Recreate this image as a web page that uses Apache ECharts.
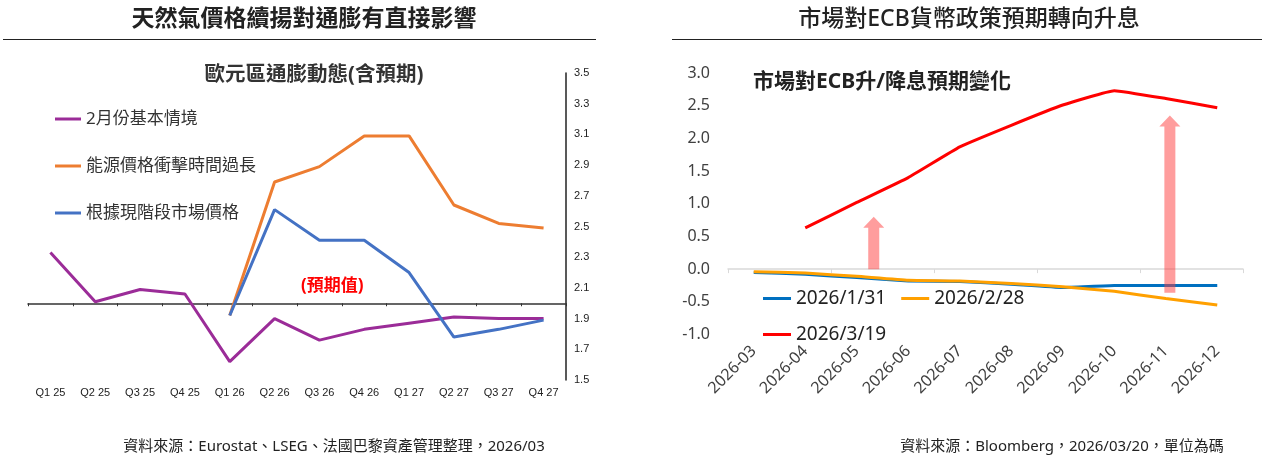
<!DOCTYPE html>
<html>
<head>
<meta charset="utf-8">
<script src="https://cdn.jsdelivr.net/npm/echarts@6/dist/echarts.min.js"></script>
<style>
  html, body { margin: 0; padding: 0; background: #fff; }
  #chart { width: 1269px; height: 456px; }
</style>
</head>
<body>
<div id="chart"></div>
<script>
// left panel: euro area inflation (quarterly)
const quarters = ['Q1 25', 'Q2 25', 'Q3 25', 'Q4 25', 'Q1 26', 'Q2 26', 'Q3 26', 'Q4 26', 'Q1 27', 'Q2 27', 'Q3 27', 'Q4 27'];
const baseCase = [2.33, 2.01, 2.09, 2.06, 1.62, 1.90, 1.76, 1.83, 1.87, 1.91, 1.90, 1.90];
const energyShock = [null, null, null, null, 1.92, 2.79, 2.89, 3.09, 3.09, 2.64, 2.52, 2.49];
const marketPrice = [null, null, null, null, 1.92, 2.61, 2.41, 2.41, 2.20, 1.78, 1.83, 1.89];
const inflTicks = [1.5, 1.7, 1.9, 2.1, 2.3, 2.5, 2.7, 2.9, 3.1, 3.3, 3.5];

// right panel: ECB rate expectations (months)
const months = ['2026-03', '2026-04', '2026-05', '2026-06', '2026-07', '2026-08', '2026-09', '2026-10', '2026-11', '2026-12'];
const asOfJan31 = [-0.05, -0.08, -0.13, -0.18, -0.19, -0.23, -0.28, -0.25, -0.25, -0.25];
const asOfFeb28 = [-0.04, -0.06, -0.11, -0.17, -0.18, -0.22, -0.27, -0.34, -0.45, -0.55];
const asOfMar19 = [null, 0.63, 1.02, 1.40, 1.87, 2.20, 2.51, 2.73, 2.61, 2.47];

// pink arrow annotations (category position, from value, to value)
const arrows = [
  { at: 2.33, from: 0, to: 0.80 },
  { at: 8.08, from: -0.36, to: 2.35 }
];

const W = 1269, H = 456;
const cjk = "'Noto Sans', 'Noto Sans CJK TC', sans-serif";
const latin = "'Liberation Sans', Arial, sans-serif";

const leftGrid = { left: 28, right: W - 566, top: 73, bottom: H - 380 };
const rightGrid = { left: 728, right: W - 1243, top: 73, bottom: H - 334.5 };
// x axis lines sit at 2.0 (left) and 0.0 (right): a quarter up from the bottom
const leftLineOffset = -(H - leftGrid.top - leftGrid.bottom) * (2.0 - 1.5) / (3.5 - 1.5);
const rightLineOffset = -(H - rightGrid.top - rightGrid.bottom) * (0 - (-1)) / (3 - (-1));

let chartElem = document.getElementById('chart');
let chart = echarts.init(chartElem);

chart.setOption({
  animation: false,
  textStyle: { fontFamily: cjk },
  title: [{
    text: '天然氣價格續揚對通膨有直接影響',
    left: 299, top: 3, textAlign: 'center',
    textStyle: { fontSize: 23, fontWeight: 'bold', color: '#222', fontFamily: cjk }
  }, {
    text: '市場對ECB貨幣政策預期轉向升息',
    left: 964, top: 3, textAlign: 'center',
    textStyle: { fontSize: 23, fontWeight: 500, color: '#222', fontFamily: cjk }
  }, {
    text: '歐元區通膨動態(含預期)',
    left: 309, top: 60, textAlign: 'center',
    textStyle: { fontSize: 20.5, fontWeight: 'bold', color: '#333', fontFamily: cjk }
  }, {
    text: '市場對ECB升/降息預期變化',
    left: 748, top: 67,
    textStyle: { fontSize: 21, fontWeight: 'bold', color: '#222', fontFamily: cjk }
  }, {
    text: '資料來源：Eurostat、LSEG、法國巴黎資產管理整理，2026/03',
    left: 329, top: 434, textAlign: 'center',
    textStyle: { fontSize: 15, fontWeight: 'normal', color: '#222', fontFamily: cjk }
  }, {
    text: '資料來源：Bloomberg，2026/03/20，單位為碼',
    left: 1057, top: 434, textAlign: 'center',
    textStyle: { fontSize: 15, fontWeight: 'normal', color: '#222', fontFamily: cjk }
  }],
  legend: [{
    data: ['2月份基本情境', '能源價格衝擊時間過長', '根據現階段市場價格'],
    orient: 'vertical',
    left: 55, top: 109, padding: 0,
    icon: 'rect', itemWidth: 26, itemHeight: 3, itemGap: 27,
    textStyle: { fontSize: 17, color: '#333', lineHeight: 20, fontFamily: cjk }
  }, {
    data: ['2026/1/31', '2026/2/28', '2026/3/19'],
    orient: 'horizontal',
    left: 763, top: 288, width: 300, padding: 0,
    icon: 'rect', itemWidth: 28, itemHeight: 3, itemGap: 15,
    textStyle: { fontSize: 19, color: '#222', lineHeight: 21, fontFamily: cjk }
  }],
  grid: [
    { ...leftGrid, containLabel: false },
    { ...rightGrid, containLabel: false }
  ],
  xAxis: [{
    gridIndex: 0, type: 'category', data: quarters, boundaryGap: true,
    axisLine: { show: false }, axisTick: { show: false }, splitLine: { show: false },
    axisLabel: { fontSize: 11, color: '#222', margin: 7, fontFamily: latin }
  }, {
    gridIndex: 0, type: 'category', data: quarters, boundaryGap: true,
    position: 'bottom', offset: leftLineOffset,
    axisLine: { show: true, onZero: false, lineStyle: { color: '#333', width: 1.5 } },
    axisTick: { show: true, length: 3, lineStyle: { color: '#333' } },
    axisLabel: { show: false }, splitLine: { show: false }
  }, {
    gridIndex: 1, type: 'category', data: months, boundaryGap: true,
    axisLine: { show: false }, axisTick: { show: false }, splitLine: { show: false },
    axisLabel: { fontSize: 16, color: '#404040', rotate: 45, margin: 14, fontFamily: cjk }
  }, {
    gridIndex: 1, type: 'category', data: months, boundaryGap: true,
    position: 'bottom', offset: rightLineOffset,
    axisLine: { show: true, onZero: false, lineStyle: { color: '#d9d9d9', width: 1.5 } },
    axisTick: { show: true, length: 4, lineStyle: { color: '#d9d9d9' } },
    axisLabel: { show: false }, splitLine: { show: false }
  }],
  yAxis: [{
    gridIndex: 0, type: 'value', position: 'right',
    min: 1.5, max: 3.5,
    axisLine: { show: true, lineStyle: { color: '#222', width: 1.5 } },
    axisTick: { show: false }, splitLine: { show: false },
    axisLabel: {
      customValues: inflTicks, fontSize: 11, color: '#222', margin: 8, fontFamily: latin,
      formatter: v => v.toFixed(1)
    }
  }, {
    gridIndex: 1, type: 'value',
    min: -1, max: 3, interval: 0.5,
    axisLine: { show: false }, axisTick: { show: false }, splitLine: { show: false },
    axisLabel: { fontSize: 16, color: '#404040', margin: 18, fontFamily: cjk, formatter: v => v.toFixed(1) }
  }],
  series: [{
    name: '2月份基本情境', type: 'line', data: baseCase,
    xAxisIndex: 0, yAxisIndex: 0, symbol: 'none', color: '#9B2C98',
    lineStyle: { width: 3, color: '#9B2C98' }
  }, {
    name: '能源價格衝擊時間過長', type: 'line', data: energyShock,
    xAxisIndex: 0, yAxisIndex: 0, symbol: 'none', color: '#ED7D31',
    lineStyle: { width: 3, color: '#ED7D31' }
  }, {
    name: '根據現階段市場價格', type: 'line', data: marketPrice,
    xAxisIndex: 0, yAxisIndex: 0, symbol: 'none', color: '#4472C4',
    lineStyle: { width: 3, color: '#4472C4' }
  }, {
    name: '2026/1/31', type: 'line', data: asOfJan31, smooth: 0.1,
    xAxisIndex: 2, yAxisIndex: 1, symbol: 'none', color: '#0070C0',
    lineStyle: { width: 3, color: '#0070C0' }
  }, {
    name: '2026/2/28', type: 'line', data: asOfFeb28, smooth: 0.1,
    xAxisIndex: 2, yAxisIndex: 1, symbol: 'none', color: '#FFA000',
    lineStyle: { width: 3, color: '#FFA000' }
  }, {
    name: '2026/3/19', type: 'line', data: asOfMar19, smooth: 0.1,
    xAxisIndex: 2, yAxisIndex: 1, symbol: 'none', color: '#FF0000',
    lineStyle: { width: 3, color: '#FF0000' }
  }]
});

// annotations: "(預期值)" label, pink arrows, title underlines
function catX(pos) {
  let i = Math.floor(pos), f = pos - i;
  let x0 = chart.convertToPixel({ xAxisIndex: 2 }, i);
  let x1 = chart.convertToPixel({ xAxisIndex: 2 }, i + 1);
  return x0 + (x1 - x0) * f;
}
function arrowShape(a) {
  let x = catX(a.at);
  let yb = chart.convertToPixel({ yAxisIndex: 1 }, a.from);
  let yt = chart.convertToPixel({ yAxisIndex: 1 }, a.to);
  let sw = 5.5, hw = 10.5, hh = 11;
  return [[x - sw, yb], [x - sw, yt + hh], [x - hw, yt + hh], [x, yt], [x + hw, yt + hh], [x + sw, yt + hh], [x + sw, yb]];
}

let graphics = [{
  type: 'line', shape: { x1: 3, y1: 39.5, x2: 596, y2: 39.5 },
  style: { stroke: '#222', lineWidth: 1.2 }, z: 10
}, {
  type: 'line', shape: { x1: 672, y1: 39.5, x2: 1262, y2: 39.5 },
  style: { stroke: '#222', lineWidth: 1.2 }, z: 10
}, {
  type: 'text', left: 301, top: 278,
  style: { text: '(預期值)', fill: '#FF0000', font: 'bold 17px ' + cjk }, z: 10
}];
arrows.forEach(a => {
  graphics.push({
    type: 'polygon', shape: { points: arrowShape(a) },
    style: { fill: 'rgba(255, 60, 60, 0.5)' }, z: 20
  });
});
chart.setOption({ graphic: graphics });

window.addEventListener('resize', function () {
  setTimeout(() => {
    chart.resize();
  }, 500);
});
</script>
</body>
</html>
